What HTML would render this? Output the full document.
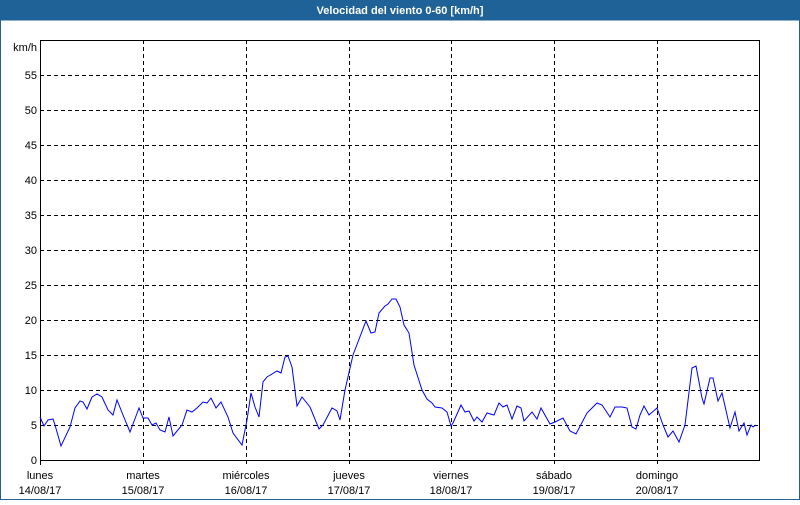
<!DOCTYPE html>
<html><head><meta charset="utf-8"><style>
body{margin:0;width:800px;height:500px;overflow:hidden;background:#fff;font-family:"Liberation Sans",sans-serif}
</style></head><body>
<svg width="800" height="500" xmlns="http://www.w3.org/2000/svg" font-family="Liberation Sans, sans-serif" font-size="11">
<rect x="0" y="0" width="800" height="500" fill="#fff"/>
<rect x="0" y="0" width="800" height="20" fill="#1f6298"/>
<rect x="0.5" y="20" width="799" height="479.5" fill="none" stroke="#1f6298" stroke-width="1"/>
<text x="400" y="14" fill="#fff" font-weight="bold" text-anchor="middle">Velocidad del viento 0-60 [km/h]</text>
<g stroke="#000" stroke-dasharray="4,3" stroke-width="1">
<line x1="40" y1="75.5" x2="760" y2="75.5"/><line x1="40" y1="110.5" x2="760" y2="110.5"/>
<line x1="40" y1="145.5" x2="760" y2="145.5"/><line x1="40" y1="180.5" x2="760" y2="180.5"/>
<line x1="40" y1="215.5" x2="760" y2="215.5"/><line x1="40" y1="250.5" x2="760" y2="250.5"/>
<line x1="40" y1="285.5" x2="760" y2="285.5"/><line x1="40" y1="320.5" x2="760" y2="320.5"/>
<line x1="40" y1="355.5" x2="760" y2="355.5"/><line x1="40" y1="390.5" x2="760" y2="390.5"/>
<line x1="40" y1="425.5" x2="760" y2="425.5"/>
<line x1="143.5" y1="40" x2="143.5" y2="465"/><line x1="246.5" y1="40" x2="246.5" y2="465"/>
<line x1="349.5" y1="40" x2="349.5" y2="465"/><line x1="451.5" y1="40" x2="451.5" y2="465"/>
<line x1="554.5" y1="40" x2="554.5" y2="465"/><line x1="657.5" y1="40" x2="657.5" y2="465"/>
</g>
<rect x="40.5" y="40.5" width="719" height="420" fill="none" stroke="#000"/>
<line x1="40.5" y1="460" x2="40.5" y2="465" stroke="#000"/>
<g text-anchor="end" fill="#000">
<text x="37" y="51">km/h</text>
<text x="37" y="79">55</text><text x="37" y="114">50</text><text x="37" y="149">45</text>
<text x="37" y="184">40</text><text x="37" y="219">35</text><text x="37" y="254">30</text>
<text x="37" y="289">25</text><text x="37" y="324">20</text><text x="37" y="359">15</text>
<text x="37" y="394">10</text><text x="37" y="429">5</text><text x="37" y="464">0</text>
</g>
<g text-anchor="middle" fill="#000">
<text x="40" y="479">lunes</text><text x="40" y="494">14/08/17</text>
<text x="143" y="479">martes</text><text x="143" y="494">15/08/17</text>
<text x="246" y="479">miércoles</text><text x="246" y="494">16/08/17</text>
<text x="349" y="479">jueves</text><text x="349" y="494">17/08/17</text>
<text x="451" y="479">viernes</text><text x="451" y="494">18/08/17</text>
<text x="554" y="479">sábado</text><text x="554" y="494">19/08/17</text>
<text x="657" y="479">domingo</text><text x="657" y="494">20/08/17</text>
</g>
<polyline fill="none" stroke="#0000ff" stroke-width="1" points="40,417 44,426 48,420 53,419 55,425 61,446 70,427 75,408 80,401 83,402 87,409 92,397 97,394 102,397 108,410 113,415 117,400 123,415 130,432 139,408 143,418 148,418 152,425 156,423 160,430 165,432 169,417 173,436 182,425 187,410 192,412 197,408 203,402 207,403 211,398 216,408 221,402 228,417 233,433 242,445 247,420 251,393 255,407 259,417 263,382 267,377 272,374 277,371 281,373 285,357 288,356 292,367 297,406 302,397 310,407 319,429 323,425 332,408 337,411 340,420 345,390 353,355 366,321 371,333 375,332 379,313 385,306 388,304 392,299 396,299 400,307 404,325 409,333 414,365 422,390 427,399 432,403 435,407 442,408 447,412 451,426 453,423 461,405 465,412 469,411 474,421 477,417 482,422 487,413 494,415 499,403 503,407 507,405 512,419 517,406 521,408 524,421 532,412 537,419 541,408 550,424 555,422 563,418 570,431 576,434 587,413 597,403 602,405 610,417 615,407 622,407 627,408 632,427 636,429 640,415 644,406 649,415 657,408 663,425 668,437 673,431 679,442 685,425 692,368 696,366 702,398 704,404 710,378 713,378 718,401 722,393 730,428 735,412 739,431 744,423 747,435 751,425 753,427 756,425"/>
</svg>
</body></html>
